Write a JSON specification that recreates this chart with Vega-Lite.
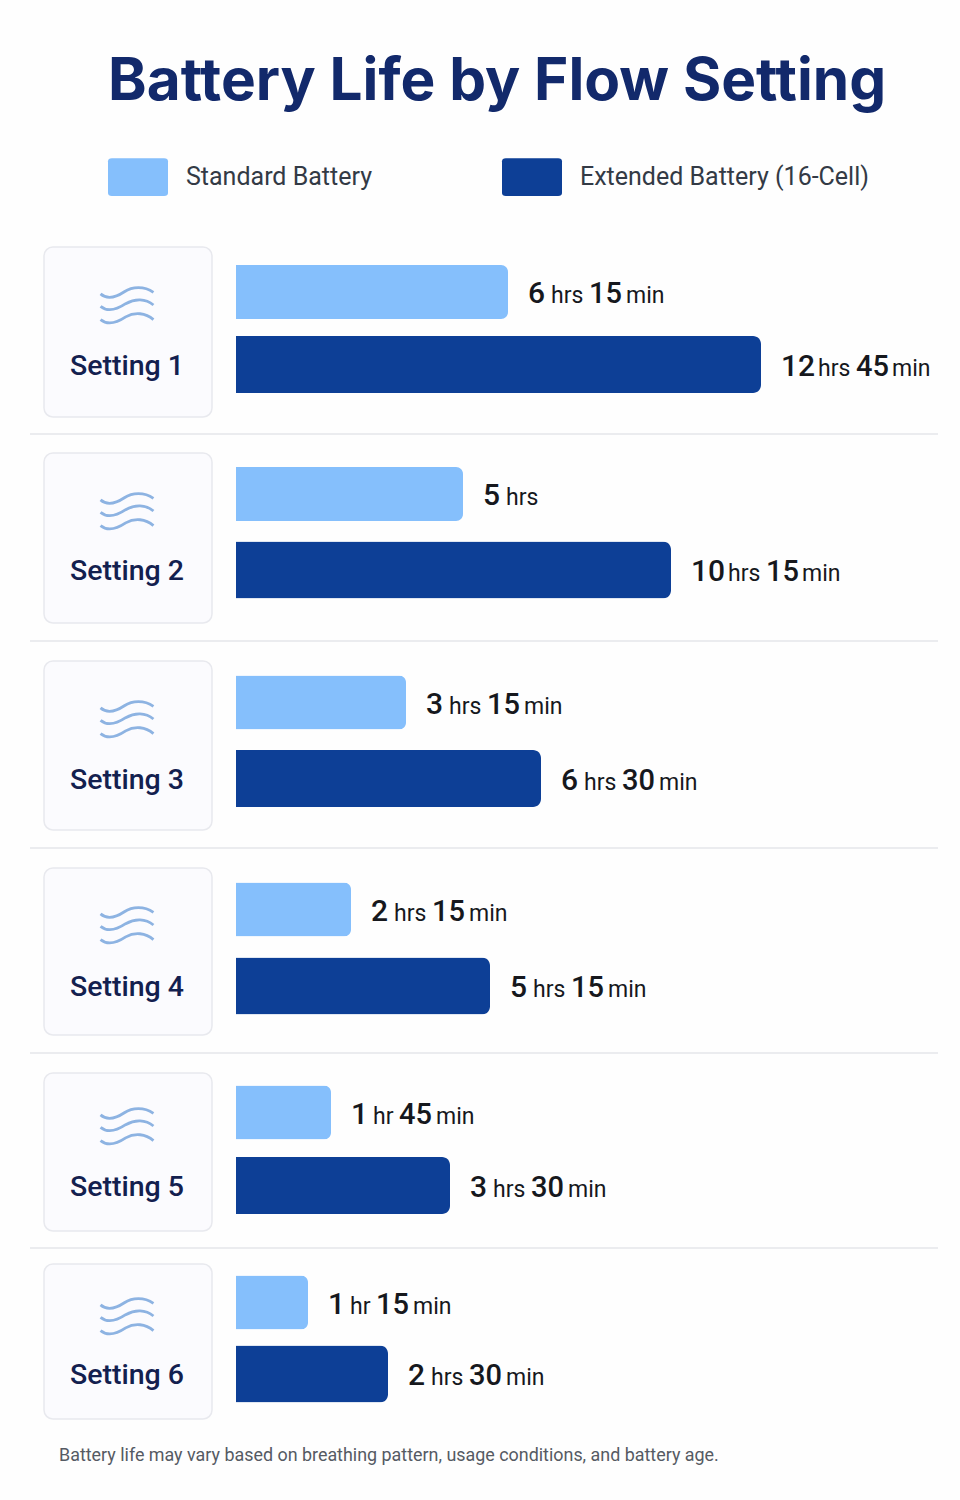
{
  "$schema": "https://vega.github.io/schema/vega-lite/v6.json",
  "width": 960,
  "height": 1500,
  "padding": 0,
  "autosize": {"type": "none"},
  "background": "#fefefe",
  "title": {
    "text": "Battery Life by Flow Setting",
    "anchor": "start",
    "frame": "group",
    "dx": 108,
    "dy": 116,
    "font": "Inter",
    "fontSize": 58.5,
    "fontWeight": 700,
    "color": "#12296b"
  },
  "config": {"view": {"stroke": null}},
  "datasets": {
    "bars": [
      {"setting": "Setting 1", "series": "Standard Battery", "hours": 6.25, "slot": 2, "h": "6", "unit": "hrs", "mm": "15", "min": "min"},
      {"setting": "Setting 1", "series": "Extended Battery (16-Cell)", "hours": 12.75, "slot": 4, "h": "12", "unit": "hrs", "mm": "45", "min": "min"},
      {"setting": "Setting 2", "series": "Standard Battery", "hours": 5, "slot": 8, "h": "5", "unit": "hrs", "mm": "", "min": ""},
      {"setting": "Setting 2", "series": "Extended Battery (16-Cell)", "hours": 10.25, "slot": 10, "h": "10", "unit": "hrs", "mm": "15", "min": "min"},
      {"setting": "Setting 3", "series": "Standard Battery", "hours": 3.25, "slot": 14, "h": "3", "unit": "hrs", "mm": "15", "min": "min"},
      {"setting": "Setting 3", "series": "Extended Battery (16-Cell)", "hours": 6.5, "slot": 16, "h": "6", "unit": "hrs", "mm": "30", "min": "min"},
      {"setting": "Setting 4", "series": "Standard Battery", "hours": 2.25, "slot": 20, "h": "2", "unit": "hrs", "mm": "15", "min": "min"},
      {"setting": "Setting 4", "series": "Extended Battery (16-Cell)", "hours": 5.25, "slot": 22, "h": "5", "unit": "hrs", "mm": "15", "min": "min"},
      {"setting": "Setting 5", "series": "Standard Battery", "hours": 1.75, "slot": 26, "h": "1", "unit": "hr", "mm": "45", "min": "min"},
      {"setting": "Setting 5", "series": "Extended Battery (16-Cell)", "hours": 3.5, "slot": 28, "h": "3", "unit": "hrs", "mm": "30", "min": "min"},
      {"setting": "Setting 6", "series": "Standard Battery", "hours": 1.25, "slot": 32, "h": "1", "unit": "hr", "mm": "15", "min": "min"},
      {"setting": "Setting 6", "series": "Extended Battery (16-Cell)", "hours": 2.5, "slot": 34, "h": "2", "unit": "hrs", "mm": "30", "min": "min"}
    ],
    "cards": [
      {"setting": "Setting 1", "top": 1, "icon": 3, "name": 4, "bottom": 5},
      {"setting": "Setting 2", "top": 7, "icon": 9, "name": 10, "bottom": 11},
      {"setting": "Setting 3", "top": 13, "icon": 15, "name": 16, "bottom": 17},
      {"setting": "Setting 4", "top": 19, "icon": 21, "name": 22, "bottom": 23},
      {"setting": "Setting 5", "top": 25, "icon": 27, "name": 28, "bottom": 29},
      {"setting": "Setting 6", "top": 31, "icon": 33, "name": 34, "bottom": 35}
    ],
    "separators": [
      {"id": 1, "col": 0, "slot": 6}, {"id": 1, "col": 5, "slot": 6},
      {"id": 2, "col": 0, "slot": 12}, {"id": 2, "col": 5, "slot": 12},
      {"id": 3, "col": 0, "slot": 18}, {"id": 3, "col": 5, "slot": 18},
      {"id": 4, "col": 0, "slot": 24}, {"id": 4, "col": 5, "slot": 24},
      {"id": 5, "col": 0, "slot": 30}, {"id": 5, "col": 5, "slot": 30}
    ],
    "baseline": [{"slot": 0}, {"slot": 36}],
    "note": [{"text": "Battery life may vary based on breathing pattern, usage conditions, and battery age.", "col": 2, "slot": 37}]
  },
  "resolve": {"scale": {"x": "independent"}},
  "layer": [
    {
      "data": {"name": "separators"},
      "mark": {"type": "line", "color": "#e4e6ea", "strokeWidth": 1.5},
      "encoding": {
        "x": {"field": "col", "type": "quantitative", "axis": null, "scale": {"domain": [0, 1, 2, 3, 4, 5], "range": [30, 44, 59, 127, 212, 938]}},
        "y": {"field": "slot", "type": "quantitative", "axis": null, "scale": {"domain": [0,1,2,3,4,5,6,7,8,9,10,11,12,13,14,15,16,17,18,19,20,21,22,23,24,25,26,27,28,29,30,31,32,33,34,35,36,37], "range": [235,247,292,305,364.5,417,434,453,494,511,570,623,641,661,702.5,719,778.5,830,848,868,909.5,925,986,1035,1053,1073,1112.5,1126,1185.5,1231,1248,1264,1302.5,1316,1374,1419,1428,1455]}},
        "detail": {"field": "id"}
      }
    },
    {
      "data": {"name": "cards"},
      "layer": [
        {
          "mark": {"type": "rect", "fill": "#fbfbfe", "stroke": "#e8e9ee", "strokeWidth": 1.5, "cornerRadius": 9},
          "encoding": {
            "y": {"field": "top", "type": "quantitative", "axis": null, "scale": {"domain": [0,1,2,3,4,5,6,7,8,9,10,11,12,13,14,15,16,17,18,19,20,21,22,23,24,25,26,27,28,29,30,31,32,33,34,35,36,37], "range": [235,247,292,305,364.5,417,434,453,494,511,570,623,641,661,702.5,719,778.5,830,848,868,909.5,925,986,1035,1053,1073,1112.5,1126,1185.5,1231,1248,1264,1302.5,1316,1374,1419,1428,1455]}},
            "y2": {"field": "bottom"},
            "x": {"datum": 1, "type": "quantitative", "axis": null, "scale": {"domain": [0, 1, 2, 3, 4, 5], "range": [30, 44, 59, 127, 212, 938]}},
            "x2": {"datum": 4}
          }
        },
        {
          "mark": {"type": "point", "filled": false, "stroke": "#8db3e2", "strokeWidth": 2.8, "size": 2800, "opacity": 1, "shape": "M-1,-0.42 C-0.75,-0.2 -0.4,-0.3 -0.1,-0.5 C0.2,-0.7 0.65,-0.72 1,-0.48 M-1,0.05 C-0.7,0.3 -0.35,0.15 -0.05,-0.05 C0.3,-0.25 0.7,-0.25 1,0 M-1,0.55 C-0.7,0.8 -0.35,0.65 -0.05,0.45 C0.3,0.25 0.7,0.3 1,0.55"},
          "encoding": {
            "y": {"field": "icon", "type": "quantitative", "axis": null, "scale": {"domain": [0,1,2,3,4,5,6,7,8,9,10,11,12,13,14,15,16,17,18,19,20,21,22,23,24,25,26,27,28,29,30,31,32,33,34,35,36,37], "range": [235,247,292,305,364.5,417,434,453,494,511,570,623,641,661,702.5,719,778.5,830,848,868,909.5,925,986,1035,1053,1073,1112.5,1126,1185.5,1231,1248,1264,1302.5,1316,1374,1419,1428,1455]}},
            "x": {"datum": 3, "type": "quantitative", "axis": null, "scale": {"domain": [0, 1, 2, 3, 4, 5], "range": [30, 44, 59, 127, 212, 938]}}
          }
        },
        {
          "mark": {"type": "text", "font": "Roboto", "fontSize": 28.5, "fontWeight": 500, "color": "#13204f", "align": "center", "baseline": "alphabetic", "dy": 10},
          "encoding": {
            "text": {"field": "setting"},
            "y": {"field": "name", "type": "quantitative", "axis": null, "scale": {"domain": [0,1,2,3,4,5,6,7,8,9,10,11,12,13,14,15,16,17,18,19,20,21,22,23,24,25,26,27,28,29,30,31,32,33,34,35,36,37], "range": [235,247,292,305,364.5,417,434,453,494,511,570,623,641,661,702.5,719,778.5,830,848,868,909.5,925,986,1035,1053,1073,1112.5,1126,1185.5,1231,1248,1264,1302.5,1316,1374,1419,1428,1455]}},
            "x": {"datum": 3, "type": "quantitative", "axis": null, "scale": {"domain": [0, 1, 2, 3, 4, 5], "range": [30, 44, 59, 127, 212, 938]}}
          }
        }
      ]
    },
    {
      "data": {"name": "note"},
      "mark": {"type": "text", "font": "Roboto", "fontSize": 17.9, "color": "#555a63", "align": "left", "baseline": "middle", "dy": 5},
      "encoding": {
        "text": {"field": "text"},
        "x": {"field": "col", "type": "quantitative", "axis": null, "scale": {"domain": [0, 1, 2, 3, 4, 5], "range": [30, 44, 59, 127, 212, 938]}},
        "y": {"field": "slot", "type": "quantitative", "axis": null, "scale": {"domain": [0,1,2,3,4,5,6,7,8,9,10,11,12,13,14,15,16,17,18,19,20,21,22,23,24,25,26,27,28,29,30,31,32,33,34,35,36,37], "range": [235,247,292,305,364.5,417,434,453,494,511,570,623,641,661,702.5,719,778.5,830,848,868,909.5,925,986,1035,1053,1073,1112.5,1126,1185.5,1231,1248,1264,1302.5,1316,1374,1419,1428,1455]}}
      }
    },
    {
      "encoding": {
        "x": {"field": "hours", "type": "quantitative", "axis": null, "scale": {"domain": [0, 1.25, 1.75, 2.25, 2.5, 3.25, 3.5, 5, 5.25, 6.25, 6.5, 10.25, 12.75], "range": [236, 308, 331, 351, 388, 406, 450, 463, 490, 508, 541, 671, 761]}},
        "y": {"field": "slot", "type": "quantitative", "axis": null, "scale": {"domain": [0,1,2,3,4,5,6,7,8,9,10,11,12,13,14,15,16,17,18,19,20,21,22,23,24,25,26,27,28,29,30,31,32,33,34,35,36,37], "range": [235,247,292,305,364.5,417,434,453,494,511,570,623,641,661,702.5,719,778.5,830,848,868,909.5,925,986,1035,1053,1073,1112.5,1126,1185.5,1231,1248,1264,1302.5,1316,1374,1419,1428,1455]}}
      },
      "layer": [
        {
          "data": {"name": "baseline"},
          "mark": {"type": "line", "color": "#e4e6ea", "strokeWidth": 1.5, "strokeDash": [2, 3]},
          "encoding": {"x": {"datum": 0, "type": "quantitative"}}
        },
        {
          "data": {"name": "bars"},
          "transform": [{"filter": "datum.series == 'Standard Battery'"}],
          "mark": {"type": "bar", "orient": "horizontal", "size": 54, "cornerRadiusEnd": 7},
          "encoding": {
            "color": {
              "field": "series",
              "type": "nominal",
              "scale": {"domain": ["Standard Battery", "Extended Battery (16-Cell)"], "range": ["#85bffc", "#0d3f96"]},
              "legend": {
                "title": null,
                "orient": "none",
                "legendX": 108,
                "legendY": 147,
                "direction": "horizontal",
                "columns": 2,
                "columnPadding": 130,
                "symbolType": "M-1,-0.53 Q-1,-0.63 -0.87,-0.63 L0.87,-0.63 Q1,-0.63 1,-0.53 L1,0.53 Q1,0.63 0.87,0.63 L-0.87,0.63 Q-1,0.63 -1,0.53 Z",
                "symbolSize": 3600,
                "symbolStrokeWidth": 0,
                "labelFont": "Roboto",
                "labelFontSize": 25,
                "labelColor": "#333a45",
                "labelOffset": 18,
                "labelLimit": 400
              }
            }
          }
        },
        {
          "data": {"name": "bars"},
          "transform": [{"filter": "datum.series != 'Standard Battery'"}],
          "mark": {"type": "bar", "orient": "horizontal", "size": 57, "cornerRadiusEnd": 8},
          "encoding": {"color": {"field": "series", "type": "nominal"}}
        },
        {
          "data": {"name": "bars"},
          "mark": {"type": "text", "font": "Roboto", "fontWeight": 500, "fontSize": 30, "color": "#16181d", "align": "left", "baseline": "alphabetic", "dx": 20, "dy": 11},
          "encoding": {"text": {"field": "h"}}
        },
        {
          "data": {"name": "bars"},
          "transform": [{"filter": "datum.h.length == 1 && datum.unit == 'hrs'"}],
          "layer": [
            {"mark": {"type": "text", "font": "Roboto", "fontSize": 23, "color": "#16181d", "align": "left", "baseline": "alphabetic", "dx": 43, "dy": 11}, "encoding": {"text": {"field": "unit"}}},
            {"mark": {"type": "text", "font": "Roboto", "fontWeight": 500, "fontSize": 29, "color": "#16181d", "align": "left", "baseline": "alphabetic", "dx": 81, "dy": 11}, "encoding": {"text": {"field": "mm"}}},
            {"mark": {"type": "text", "font": "Roboto", "fontSize": 23, "color": "#16181d", "align": "left", "baseline": "alphabetic", "dx": 118, "dy": 11}, "encoding": {"text": {"field": "min"}}}
          ]
        },
        {
          "data": {"name": "bars"},
          "transform": [{"filter": "datum.h.length == 2"}],
          "layer": [
            {"mark": {"type": "text", "font": "Roboto", "fontSize": 23, "color": "#16181d", "align": "left", "baseline": "alphabetic", "dx": 57, "dy": 11}, "encoding": {"text": {"field": "unit"}}},
            {"mark": {"type": "text", "font": "Roboto", "fontWeight": 500, "fontSize": 29, "color": "#16181d", "align": "left", "baseline": "alphabetic", "dx": 95, "dy": 11}, "encoding": {"text": {"field": "mm"}}},
            {"mark": {"type": "text", "font": "Roboto", "fontSize": 23, "color": "#16181d", "align": "left", "baseline": "alphabetic", "dx": 131, "dy": 11}, "encoding": {"text": {"field": "min"}}}
          ]
        },
        {
          "data": {"name": "bars"},
          "transform": [{"filter": "datum.unit == 'hr'"}],
          "layer": [
            {"mark": {"type": "text", "font": "Roboto", "fontSize": 23, "color": "#16181d", "align": "left", "baseline": "alphabetic", "dx": 42, "dy": 11}, "encoding": {"text": {"field": "unit"}}},
            {"mark": {"type": "text", "font": "Roboto", "fontWeight": 500, "fontSize": 29, "color": "#16181d", "align": "left", "baseline": "alphabetic", "dx": 68, "dy": 11}, "encoding": {"text": {"field": "mm"}}},
            {"mark": {"type": "text", "font": "Roboto", "fontSize": 23, "color": "#16181d", "align": "left", "baseline": "alphabetic", "dx": 105, "dy": 11}, "encoding": {"text": {"field": "min"}}}
          ]
        }
      ]
    }
  ]
}
